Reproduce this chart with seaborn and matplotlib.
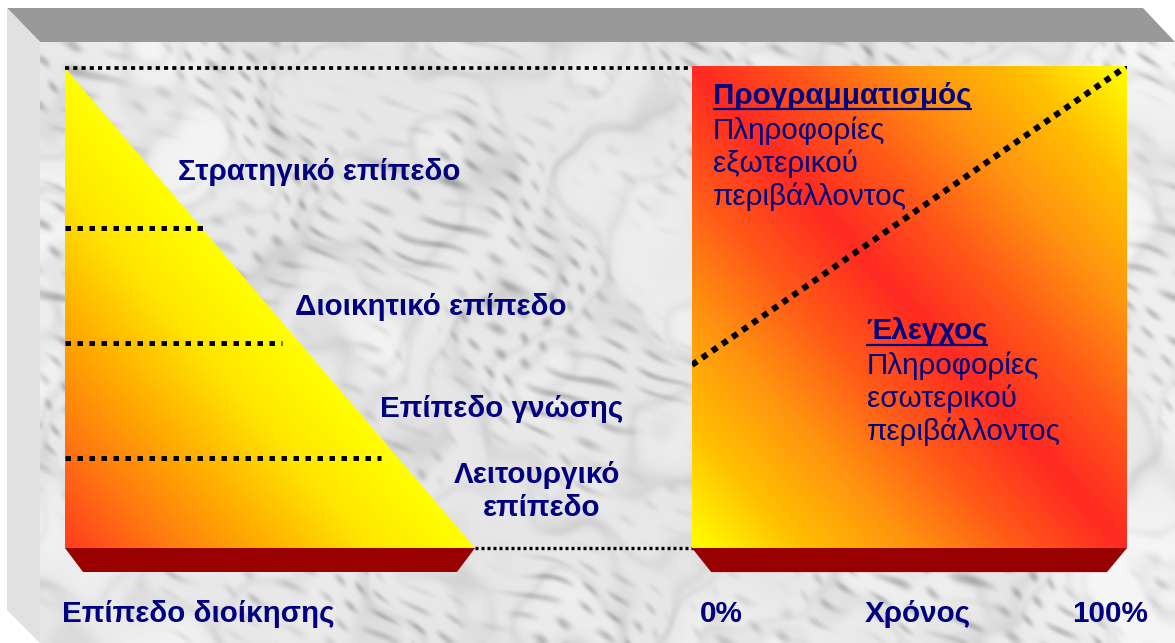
import numpy as np
import matplotlib
matplotlib.use("Agg")
import matplotlib.pyplot as plt
import seaborn as sns
from matplotlib.colors import LinearSegmentedColormap
from matplotlib.patches import Polygon

# ---------------- data ----------------
levels = ["Στρατηγικό επίπεδο", "Διοικητικό επίπεδο", "Επίπεδο γνώσης", "Λειτουργικό", "επίπεδο"]
level_bounds = [0.667, 0.427, 0.1875]      # pyramid height where each level boundary lies
level_line_len = [0.35, 0.53, 0.77]        # length of each dotted boundary line (share of base)
pyramid_x = [0.0, 0.0, 1.0]
pyramid_y = [0.0, 1.0, 0.0]
time_pct = [0, 100]
planning_boundary = [38, 100]
axis_labels = ["Επίπεδο διοίκησης", "0%", "Χρόνος", "100%"]
planning_title = "Προγραμματισμός"
planning_text = ["Πληροφορίες", "εξωτερικού", "περιβάλλοντος"]
control_title = "Έλεγχος"
control_text = ["Πληροφορίες", "εσωτερικού", "περιβάλλοντος"]

# ---------------- style ----------------
sns.set_theme(style="white")
plt.rcParams["font.family"] = ["Liberation Sans", "DejaVu Sans"]
NAVY = "#000080"
BASE = "#990000"

W, H = 1175, 643
fig = plt.figure(figsize=(W / 100, H / 100), dpi=100)


def rect(x0, y0, x1, y1):
    return [x0 / W, 1 - y1 / H, (x1 - x0) / W, (y1 - y0) / H]


# ---------------- background (frame + marble) ----------------
bg = fig.add_axes([0, 0, 1, 1])
bg.axis("off")
nx, ny = 560, 300
xs = np.linspace(40, W, nx)
ys = np.linspace(42, H, ny)
X, Y = np.meshgrid(xs, ys)
turb = (0.9 * np.sin(0.017 * X + 0.011 * Y + 0.4) + 0.7 * np.sin(0.027 * X - 0.021 * Y + 1.9)
        + 0.5 * np.sin(0.008 * X + 0.037 * Y + 2.7) + 0.3 * np.sin(0.055 * X + 0.041 * Y + 0.3)
        + 0.15 * np.sin(0.09 * X - 0.07 * Y + 1.1))
v1 = np.sin(0.013 * X - 0.009 * Y + 1.6 * turb)
v2 = np.sin(0.021 * X + 0.016 * Y + 1.4 * turb + 1.0)
veins = (np.exp(-(v1 / 0.35) ** 2) * 0.35 + np.exp(-(v2 / 0.28) ** 2) * 0.28)
# fine diagonal fibres, modulated into patches
fib = np.sin(0.16 * X - 0.24 * Y + 3.0 * turb) * np.sin(0.07 * X + 0.05 * Y + 2.0 * turb)
mask = 0.5 + 0.5 * np.sin(0.011 * X - 0.016 * Y + 1.2 * turb + 0.5)
fibres = np.clip(fib, 0, 1) ** 2 * mask
cloud = 0.5 + 0.5 * np.sin(0.8 * turb + 0.003 * X)
val = 0.965 - 0.14 * veins - 0.22 * fibres - 0.06 * cloud
bg.imshow(val, extent=(40, W, H, 42), cmap="gray", vmin=0, vmax=1,
          interpolation="bicubic", aspect="auto", zorder=0)
bg.add_patch(Polygon([(7, 8), (1143, 8), (1175, 42), (40, 42)], closed=True,
                     facecolor="#999999", edgecolor="none", zorder=1))
bg.add_patch(Polygon([(7, 8), (40, 42), (40, 643), (7, 610)], closed=True,
                     facecolor="#e1e1e1", edgecolor="none", zorder=1))
bg.set_xlim(0, W)
bg.set_ylim(H, 0)

# ---------------- left: management pyramid ----------------
ax_l = fig.add_axes(rect(65, 68, 475, 548))
ax_l.set_xlim(0, 1)
ax_l.set_ylim(0, 1)
ax_l.axis("off")
tri_cmap = LinearSegmentedColormap.from_list(
    "tri", ["#ffff00", "#ffe600", "#ffb000", "#ff7a10", "#ff3c20"])
gx, gy = np.meshgrid(np.linspace(0, 1, 300), np.linspace(0, 1, 300))
t_tri = np.clip(1 - (gx + gy), 0, 1)
im_l = ax_l.imshow(t_tri, extent=(0, 1, 0, 1), origin="lower", cmap=tri_cmap,
                   vmin=0, vmax=1, aspect="auto", zorder=1)
tri = Polygon(np.column_stack([pyramid_x, pyramid_y]), closed=True,
              facecolor="none", edgecolor="none", transform=ax_l.transData)
ax_l.add_patch(tri)
im_l.set_clip_path(tri)

for b, ln in zip(level_bounds, level_line_len):
    sns.lineplot(x=[0, ln], y=[b, b], ax=ax_l, color="black", lw=3.6,
                 linestyle=(0, (1.1, 1.3)), legend=False, zorder=3)

# connecting dotted lines (top and bottom)
x_right_end = (693 - 65) / 410
sns.lineplot(x=[0, x_right_end], y=[1.0, 1.0], ax=ax_l, color="black", lw=2.7,
             linestyle=(0, (1.1, 1.1)), legend=False, clip_on=False, zorder=3)
sns.lineplot(x=[1.0, x_right_end], y=[0.0, 0.0], ax=ax_l, color="black", lw=2.4,
             linestyle=(0, (0.9, 0.9)), legend=False, clip_on=False, zorder=3)
ax_l.add_patch(Polygon([(0, 0), (1, 0), (0.956, -0.05), (0.044, -0.05)], closed=True,
                       facecolor=BASE, edgecolor="none", clip_on=False, zorder=2))
ax_l.set_xlim(0, 1)
ax_l.set_ylim(0, 1)

# ---------------- right: planning vs control over time ----------------
ax_r = fig.add_axes(rect(692, 66, 1127, 548))
ax_r.set_xlim(0, 100)
ax_r.set_ylim(0, 100)
ax_r.axis("off")
sq_cmap = LinearSegmentedColormap.from_list(
    "sq", ["#ff2a22", "#ff5a18", "#ff9410", "#ffc000", "#ffff00"])
u = np.abs(gx + gy - 1)
ax_r.imshow(u, extent=(0, 100, 0, 100), origin="lower", cmap=sq_cmap,
            vmin=0, vmax=1, aspect="auto", zorder=1)
sns.lineplot(x=time_pct, y=planning_boundary, ax=ax_r, color="black", lw=4.4,
             linestyle=(0, (1, 1)), legend=False, zorder=3)
ax_r.add_patch(Polygon([(0, 0), (100, 0), (95.4, -5), (4.4, -5)], closed=True,
                       facecolor=BASE, edgecolor="none", clip_on=False, zorder=2))
ax_r.set_xlim(0, 100)
ax_r.set_ylim(0, 100)

# ---------------- texts (overlay axes, pixel coordinates) ----------------
ov = fig.add_axes([0, 0, 1, 1])
ov.axis("off")
ov.patch.set_alpha(0)
ov.set_xlim(0, W)
ov.set_ylim(H, 0)

txt = dict(color=NAVY, va="baseline", zorder=5)
bold = dict(fontsize=21.3, fontweight="bold", **txt)
reg = dict(fontsize=21.3, **txt)

ov.text(178, 180, levels[0], ha="left", **bold)
ov.text(295, 315, levels[1], ha="left", **bold)
ov.text(380, 417, levels[2], ha="left", **bold)
ov.text(537, 483, levels[3], ha="center", **bold)
ov.text(542, 516, levels[4], ha="center", **bold)

ov.text(62, 622, axis_labels[0], ha="left", **bold)
ov.text(700, 622, axis_labels[1], ha="left", **bold)
ov.text(918, 622, axis_labels[2], ha="center", **bold)
ov.text(1072, 622, axis_labels[3], ha="left", **bold)

t_plan = ov.text(713, 104, planning_title, ha="left", **bold)
for i, s in enumerate(planning_text):
    ov.text(713, 139 + i * 33, s, ha="left", **reg)
t_ctrl = ov.text(866, 339, control_title, ha="left", **bold)
for i, s in enumerate(control_text):
    ov.text(867, 374 + i * 33, s, ha="left", **reg)

fig.canvas.draw()
renderer = fig.canvas.get_renderer()
for t, yline in [(t_plan, 109), (t_ctrl, 345)]:
    bb = t.get_window_extent(renderer)
    ov.plot([bb.x0, bb.x1], [yline, yline], color=NAVY, lw=1.6,
            solid_capstyle="butt", zorder=5)
ov.set_xlim(0, W)
ov.set_ylim(H, 0)

fig.savefig("out.png", dpi=100)
